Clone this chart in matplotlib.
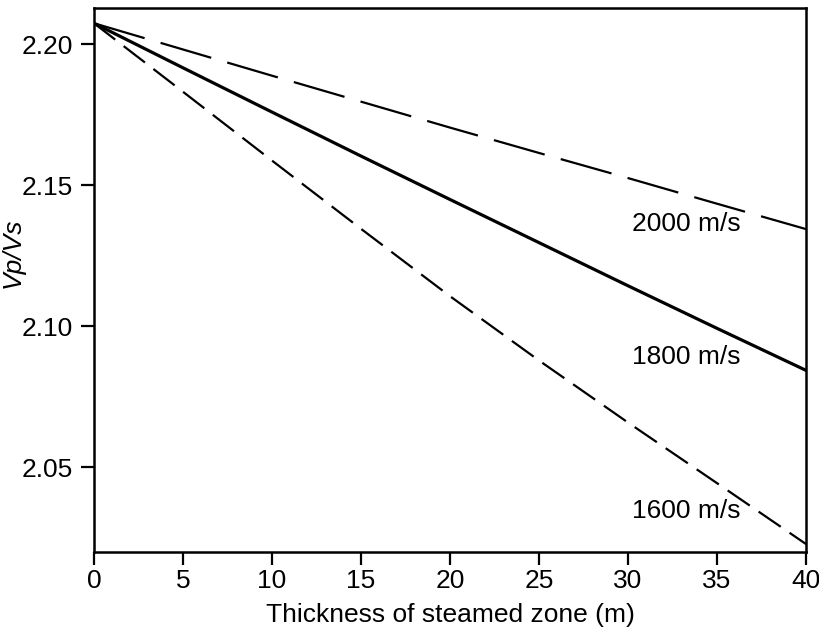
import matplotlib
matplotlib.use('Agg')
import matplotlib.pyplot as plt

plt.rcParams['font.family'] = ['Liberation Sans', 'DejaVu Sans']
plt.rcParams['lines.scale_dashes'] = False

# thickness of steamed zone (m)
thickness = [0, 5, 10, 15, 20, 25, 30, 35, 40]

# Vp/Vs for each steam velocity
vpvs_2000 = [2.2074, 2.1981, 2.1888, 2.1796, 2.1704, 2.1614, 2.1525, 2.1434, 2.1344]
vpvs_1800 = [2.2074, 2.1916, 2.1759, 2.1603, 2.1449, 2.1296, 2.1143, 2.0992, 2.0843]
vpvs_1600 = [2.2074, 2.1831, 2.1587, 2.1345, 2.1106, 2.0878, 2.0658, 2.0443, 2.0227]

labels = ['2000 m/s', '1800 m/s', '1600 m/s']
label_y = [2.1361, 2.0889, 2.0343]

fig = plt.figure(figsize=(8.2, 6.32), dpi=100)
ax = fig.add_axes([0.1146, 0.1266, 0.8684, 0.8607])

ax.plot(thickness, vpvs_2000, color='black', lw=1.6, dashes=(38, 12))
ax.plot(thickness, vpvs_1800, color='black', lw=2.3)
ax.plot(thickness, vpvs_1600, color='black', lw=1.6, dashes=(19.3, 7.7))

for lab, y in zip(labels, label_y):
    ax.text(30.2, y, lab, fontsize=19, va='center', ha='left')

ax.set_xlim(0, 40)
ax.set_ylim(2.0199, 2.2128)
ax.set_xticks(range(0, 41, 5))
ax.set_yticks([2.05, 2.10, 2.15, 2.20])
ax.set_yticklabels(['2.05', '2.10', '2.15', '2.20'])

for s in ax.spines.values():
    s.set_linewidth(1.8)
ax.tick_params(direction='out', length=9.5, width=1.6, labelsize=19, pad=3)
ax.tick_params(axis='y', pad=5.5)

ax.set_xlabel('Thickness of steamed zone (m)', fontsize=19, labelpad=7)
ax.set_ylabel('Vp/Vs', fontsize=19, style='italic')
ax.yaxis.set_label_coords(-0.097, 0.55)

plt.savefig('out.png', dpi=100)
